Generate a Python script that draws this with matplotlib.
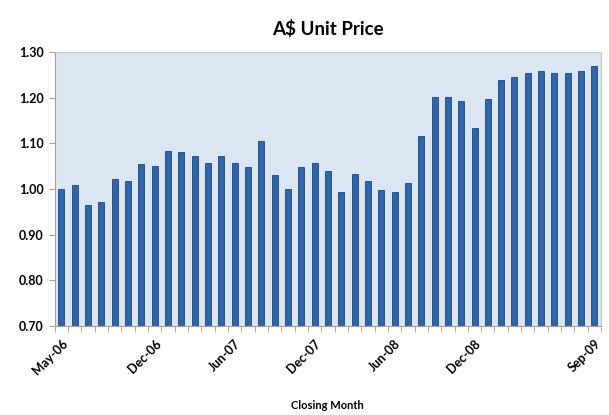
import matplotlib.pyplot as plt
import numpy as np

plt.rcParams['font.family'] = ['Lato', 'DejaVu Sans']

# Monthly closing unit price, May-06 .. Sep-09
months = ['May-06', 'Jun-06', 'Jul-06', 'Aug-06', 'Sep-06', 'Oct-06', 'Nov-06', 'Dec-06',
          'Jan-07', 'Feb-07', 'Mar-07', 'Apr-07', 'May-07', 'Jun-07', 'Jul-07', 'Aug-07',
          'Sep-07', 'Oct-07', 'Nov-07', 'Dec-07', 'Jan-08', 'Feb-08', 'Mar-08', 'Apr-08',
          'May-08', 'Jun-08', 'Jul-08', 'Aug-08', 'Sep-08', 'Oct-08', 'Nov-08', 'Dec-08',
          'Jan-09', 'Feb-09', 'Mar-09', 'Apr-09', 'May-09', 'Jun-09', 'Jul-09', 'Aug-09',
          'Sep-09']
prices = [1.000, 1.008, 0.964, 0.972, 1.021, 1.017, 1.055, 1.051, 1.084, 1.082,
          1.073, 1.056, 1.073, 1.056, 1.049, 1.105, 1.031, 1.001, 1.049, 1.058,
          1.040, 0.993, 1.032, 1.018, 0.997, 0.993, 1.014, 1.116, 1.201, 1.201,
          1.193, 1.134, 1.197, 1.239, 1.244, 1.253, 1.258, 1.253, 1.253, 1.258,
          1.270]
shown_labels = ['May-06', 'Dec-06', 'Jun-07', 'Dec-07', 'Jun-08', 'Dec-08', 'Sep-09']

fig = plt.figure(figsize=(6.09, 4.15), dpi=100)
ax = fig.add_axes([0.090, 0.214, 0.897, 0.661])
ax.set_facecolor('#DCE6F2')

x = np.arange(len(months))
ax.bar(x, prices, width=0.45, bottom=0, color='#2F65AA',
       edgecolor='#1E4677', linewidth=0.6)

ax.set_ylim(0.70, 1.30)
ax.set_xlim(-0.5, len(months) - 0.5)
ax.set_yticks(np.arange(0.70, 1.301, 0.10))
ax.set_yticklabels(['%.2f' % v for v in np.arange(0.70, 1.301, 0.10)],
                   fontsize=9, fontweight='bold')

pos = [months.index(m) for m in shown_labels]
ax.set_xticks(pos)
ax.set_xticklabels(shown_labels, rotation=45, ha='right', rotation_mode='anchor',
                   fontsize=9, fontweight='bold')
ax.tick_params(axis='x', length=0, pad=8)
ax.set_xticks(np.arange(-0.5, len(months)), minor=True)
ax.tick_params(axis='x', which='minor', length=4, color='#A0A0A0', direction='out')
ax.tick_params(axis='y', length=4, color='#A0A0A0', direction='out', pad=4)

for s in ax.spines.values():
    s.set_color('#C8C8C8')
ax.spines['left'].set_color('#A0A0A0')
ax.spines['bottom'].set_color('#A0A0A0')

ax.set_title('A$ Unit Price', fontsize=13.5, fontweight='bold', pad=12)
fig.text(0.538, 0.024, 'Closing Month', fontsize=8, fontweight='bold',
         ha='center', va='center')

fig.savefig('out.png', dpi=100)
